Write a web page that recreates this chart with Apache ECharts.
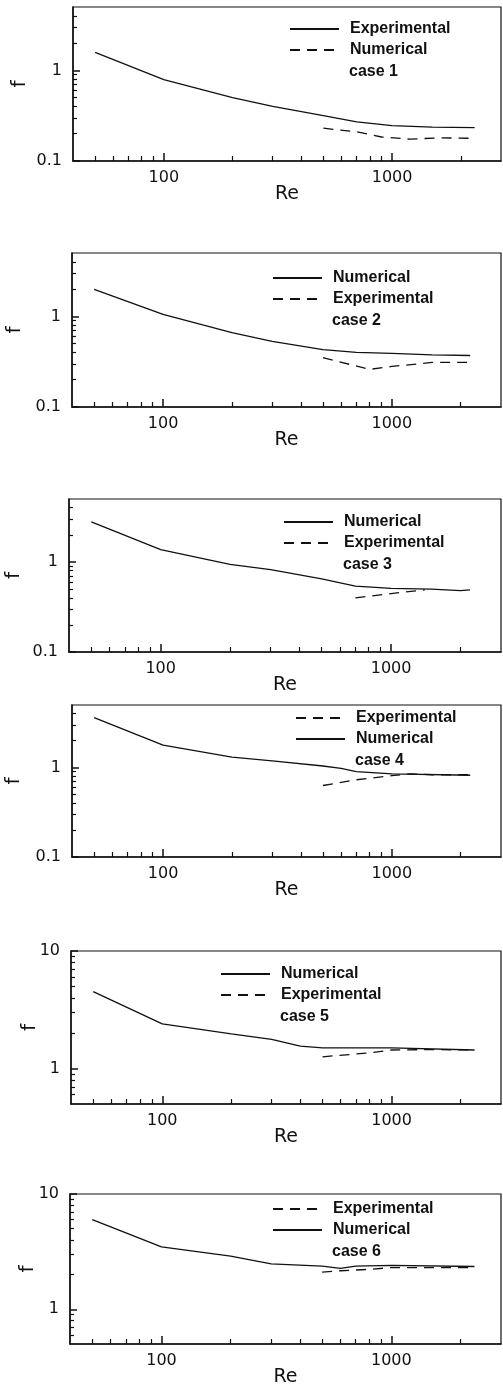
<!DOCTYPE html>
<html>
<head>
<meta charset="utf-8">
<script src="https://cdn.jsdelivr.net/npm/echarts@6/dist/echarts.min.js"></script>
<style>
html,body{margin:0;padding:0;background:#fff;}
#chart{width:503px;height:1387px;}
</style>
</head>
<body>
<div id="chart"></div>
<script>
// ---- data (Re, f) ----
const case1ExpRe = [50, 100, 200, 300, 500, 700, 1000, 1500, 2300];
const case1ExpF  = [1.58, 0.79, 0.50, 0.40, 0.316, 0.27, 0.245, 0.237, 0.233];
const case1NumRe = [500, 700, 900, 1200, 1600, 2300];
const case1NumF  = [0.23, 0.21, 0.184, 0.174, 0.18, 0.178];

const case2NumRe = [50, 100, 200, 300, 500, 700, 1000, 1500, 2200];
const case2NumF  = [1.98, 1.05, 0.66, 0.53, 0.43, 0.40, 0.39, 0.375, 0.37];
const case2ExpRe = [500, 800, 1000, 1500, 2200];
const case2ExpF  = [0.35, 0.26, 0.28, 0.31, 0.31];

const case3NumRe = [50, 100, 200, 300, 500, 700, 1000, 1500, 2000, 2200];
const case3NumF  = [2.78, 1.37, 0.94, 0.82, 0.65, 0.54, 0.51, 0.50, 0.48, 0.49];
const case3ExpRe = [700, 1000, 1400];
const case3ExpF  = [0.40, 0.445, 0.49];

const case4NumRe = [50, 100, 200, 300, 500, 600, 700, 1000, 2200];
const case4NumF  = [3.62, 1.78, 1.31, 1.19, 1.04, 0.98, 0.90, 0.85, 0.82];
const case4ExpRe = [500, 700, 1000, 1200, 1500, 2200];
const case4ExpF  = [0.63, 0.73, 0.81, 0.85, 0.83, 0.83];

const case5NumRe = [50, 100, 200, 300, 400, 500, 1000, 2300];
const case5NumF  = [4.51, 2.40, 1.97, 1.77, 1.55, 1.50, 1.50, 1.44];
const case5ExpRe = [500, 800, 1000, 1500, 2300];
const case5ExpF  = [1.26, 1.36, 1.44, 1.45, 1.44];

const case6NumRe = [50, 100, 200, 300, 500, 600, 700, 1000, 2300];
const case6NumF  = [6.0, 3.48, 2.89, 2.48, 2.37, 2.26, 2.37, 2.40, 2.35];
const case6ExpRe = [500, 600, 800, 1000, 2300];
const case6ExpF  = [2.10, 2.16, 2.22, 2.30, 2.30];

// tick values
const xLabelTicks = [100, 1000];
const xMinorTicks = [50, 60, 70, 80, 90, 200, 300, 400, 500, 600, 700, 800, 900, 2000];
const yLabelsLow  = [0.1, 1];
const yMinorLow   = [0.2, 0.3, 0.4, 0.5, 0.6, 0.7, 0.8, 0.9, 2, 3, 4];
const yLabelsHigh = [1, 10];
const yMinorHigh  = [0.6, 0.7, 0.8, 0.9, 2, 3, 4, 5, 6, 7, 8, 9];
const caseLabels  = ['case 1', 'case 2', 'case 3', 'case 4', 'case 5', 'case 6'];

function pairs(xs, ys) { return xs.map((x, i) => [x, ys[i]]); }

// panel layout (pixels) and styling
const panels = [
  {left:73, top:7,    height:154, yMin:0.1, yMax:5,  yLab:yLabelsLow,  yMinor:yMinorLow,  fGap:43, legX:289, legY:29,
   series:[['Experimental', case1ExpRe, case1ExpF, 'solid'], ['Numerical', case1NumRe, case1NumF, 'dashed']]},
  {left:72, top:253,  height:154, yMin:0.1, yMax:5,  yLab:yLabelsLow,  yMinor:yMinorLow,  fGap:47, legX:272, legY:278,
   series:[['Numerical', case2NumRe, case2NumF, 'solid'], ['Experimental', case2ExpRe, case2ExpF, 'dashed']]},
  {left:69, top:499,  height:153, yMin:0.1, yMax:5,  yLab:yLabelsLow,  yMinor:yMinorLow,  fGap:45, legX:283, legY:522,
   series:[['Numerical', case3NumRe, case3NumF, 'solid'], ['Experimental', case3ExpRe, case3ExpF, 'dashed']]},
  {left:72, top:705,  height:152, yMin:0.1, yMax:5,  yLab:yLabelsLow,  yMinor:yMinorLow,  fGap:48, legX:295, legY:718,
   series:[['Experimental', case4ExpRe, case4ExpF, 'dashed'], ['Numerical', case4NumRe, case4NumF, 'solid']]},
  {left:71, top:951,  height:153, yMin:0.5, yMax:10, yLab:yLabelsHigh, yMinor:yMinorHigh, fGap:31, legX:220, legY:974,
   series:[['Numerical', case5NumRe, case5NumF, 'solid'], ['Experimental', case5ExpRe, case5ExpF, 'dashed']]},
  {left:70, top:1194, height:150, yMin:0.5, yMax:10, yLab:yLabelsHigh, yMinor:yMinorHigh, fGap:32, legX:272, legY:1209,
   series:[['Experimental', case6ExpRe, case6ExpF, 'dashed'], ['Numerical', case6NumRe, case6NumF, 'solid']]}
];

const FONT = 'DejaVu Sans';
const LFONT = 'Liberation Sans';
const ink = '#111';
const plain = v => String(v);
const option = {
  backgroundColor: '#fff',
  animation: false,
  grid: [], xAxis: [], yAxis: [], series: [], legend: [], title: []
};

panels.forEach((p, i) => {
  option.grid.push({left: p.left, top: p.top, width: 501 - p.left, height: p.height,
    containLabel: false, outerBoundsMode: 'none',
    show: true, borderColor: ink, borderWidth: 1.2, backgroundColor: 'transparent'});
  const xi = option.xAxis.length, yi = option.yAxis.length;
  option.xAxis.push({
    type: 'log', logBase: 10, gridIndex: i, min: 40, max: 3000, position: 'bottom',
    name: 'Re', nameLocation: 'middle', nameGap: 24, nameMoveOverlap: false,
    nameTextStyle: {fontFamily: FONT, fontSize: 19, color: ink},
    axisLine: {show: true, lineStyle: {color: ink, width: 1.5}},
    axisTick: {show: true, inside: true, length: 5, customValues: xMinorTicks, lineStyle: {color: ink, width: 1.2}},
    axisLabel: {show: true, customValues: xLabelTicks, formatter: plain, margin: 9, fontFamily: FONT, fontSize: 16, color: ink},
    splitLine: {show: false}, minorTick: {show: false}
  });
  option.xAxis.push({
    type: 'log', logBase: 10, gridIndex: i, min: 40, max: 3000, position: 'bottom',
    axisLine: {show: false},
    axisTick: {show: true, inside: true, length: 8, customValues: xLabelTicks, lineStyle: {color: ink, width: 1.5}},
    axisLabel: {show: false}, splitLine: {show: false}
  });
  option.yAxis.push({
    type: 'log', logBase: 10, gridIndex: i, min: p.yMin, max: p.yMax, position: 'left',
    name: 'f', nameLocation: 'middle', nameGap: p.fGap, nameRotate: 90, nameMoveOverlap: false,
    nameTextStyle: {fontFamily: FONT, fontSize: 20, color: ink},
    axisLine: {show: true, lineStyle: {color: ink, width: 1.5}},
    axisTick: {show: true, inside: true, length: 4, customValues: p.yMinor, lineStyle: {color: ink, width: 1.2}},
    axisLabel: {show: true, customValues: p.yLab, formatter: plain, margin: 11, fontFamily: FONT, fontSize: 16, color: ink},
    splitLine: {show: false}
  });
  option.yAxis.push({
    type: 'log', logBase: 10, gridIndex: i, min: p.yMin, max: p.yMax, position: 'left',
    axisLine: {show: false},
    axisTick: {show: true, inside: true, length: 7, customValues: p.yLab, lineStyle: {color: ink, width: 1.5}},
    axisLabel: {show: false}, splitLine: {show: false}
  });
  const names = [];
  p.series.forEach(s => {
    const nm = s[0] + ' (' + caseLabels[i] + ')';
    names.push(nm);
    option.series.push({
      type: 'line', name: nm, xAxisIndex: xi, yAxisIndex: yi,
      data: pairs(s[1], s[2]), symbol: 'none', showSymbol: false, smooth: false,
      lineStyle: {color: ink, width: 1.3, type: s[3] === 'dashed' ? [10, 7] : 'solid'},
      itemStyle: {color: ink}
    });
  });
  option.legend.push({
    orient: 'vertical', left: p.legX, top: p.legY - 8, data: names, padding: 0,
    itemWidth: 49, itemHeight: 16, itemGap: 5, selectedMode: false,
    itemStyle: {opacity: 0, borderWidth: 0},
    formatter: n => n.split(' (')[0],
    textStyle: {fontFamily: LFONT, fontWeight: 'bold', fontSize: 16, color: ink, padding: [0, 0, 0, 6]}
  });
  option.title.push({
    text: caseLabels[i], left: p.legX + 60, top: p.legY + 35, padding: 0,
    textStyle: {fontFamily: LFONT, fontWeight: 'bold', fontSize: 16, color: ink}
  });
});

const chart = echarts.init(document.getElementById('chart'), null, {renderer: 'canvas'});
chart.setOption(option);
</script>
</body>
</html>
